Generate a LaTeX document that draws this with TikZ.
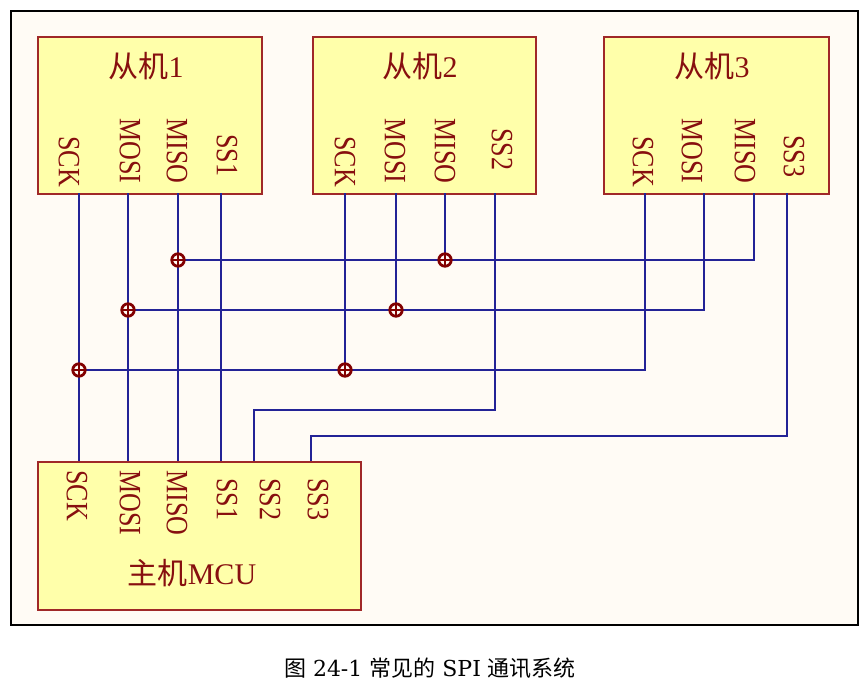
\documentclass[tikz,border=0pt]{standalone}
\usepackage{fontspec}
\setmainfont{Liberation Serif}
\newfontfamily\cjk{Noto Sans CJK SC}
\newfontfamily\capserif{DejaVu Serif}
\usepackage{graphicx}
\usetikzlibrary{calc}
\definecolor{paper}{RGB}{255,251,245}
\definecolor{chipfill}{RGB}{255,255,170}
\definecolor{chipline}{RGB}{160,40,40}
\definecolor{chiptext}{RGB}{135,15,15}
\definecolor{wireblue}{RGB}{35,35,150}
\definecolor{jred}{RGB}{130,0,0}
\tikzset{chip/.style = {draw = chipline, fill = chipfill, line width = 1.8, anchor = north west, inner sep = 0}}
\tikzset{title/.style = {text = chiptext, inner sep = 0, font = \fontsize{30}{30}\selectfont}}
\tikzset{pinlabel/.style = {rotate = -90, anchor = west, inner sep = 0, text = chiptext, font = \fontsize{31}{31}\selectfont}}
\tikzset{wire/.style = {draw = wireblue, line width = 1.9}}
\tikzset{junc/.style = {circle, draw = jred, line width = 2.8, minimum size = 12.5, inner sep = 0,
    path picture = {\draw [jred, line width = 2.6] (path picture bounding box.north) -- (path picture bounding box.south)
      (path picture bounding box.west) -- (path picture bounding box.east);}}}
\newcommand{\pinname}[1]{\scalebox{0.84}[1]{#1}}

\begin{document}
\begin{tikzpicture}[x = 1pt, y = -1pt]
    \fill [white] (0, 0) rectangle (868, 685);
    \useasboundingbox (0, 0) rectangle (868, 685);
    \draw [fill = paper, line width = 1.3] (11, 11) rectangle (858, 625);

    % slaves and master
    \node [chip, minimum width = 224, minimum height = 157] (slave1) at (37, 36) {};
    \node [chip, minimum width = 223, minimum height = 157] (slave2) at (312, 36) {};
    \node [chip, minimum width = 225, minimum height = 157] (slave3) at (603, 36) {};
    \node [chip, minimum width = 323, minimum height = 148] (master) at (37, 461) {};

    \node [title] (t1) at (146, 66) {{\cjk 从机}1};
    \node [title] (t2) at (420, 66) {{\cjk 从机}2};
    \node [title] (t3) at (712, 66) {{\cjk 从机}3};
    \node [title] (tm) at (192, 573) {{\cjk 主机}MCU};

    \node [pinlabel] (l1sck) at (69, 136) {\pinname{SCK}};
    \node [pinlabel] (l1mosi) at (130, 118) {\pinname{MOSI}};
    \node [pinlabel] (l1miso) at (177, 118) {\pinname{MISO}};
    \node [pinlabel] (l1ss) at (227, 134) {\pinname{SS1}};

    \node [pinlabel] (l2sck) at (345, 136) {\pinname{SCK}};
    \node [pinlabel] (l2mosi) at (395, 118) {\pinname{MOSI}};
    \node [pinlabel] (l2miso) at (445, 118) {\pinname{MISO}};
    \node [pinlabel] (l2ss) at (502, 128) {\pinname{SS2}};

    \node [pinlabel] (l3sck) at (643, 136) {\pinname{SCK}};
    \node [pinlabel] (l3mosi) at (692, 118) {\pinname{MOSI}};
    \node [pinlabel] (l3miso) at (745, 118) {\pinname{MISO}};
    \node [pinlabel] (l3ss) at (794, 135) {\pinname{SS3}};

    \node [pinlabel] (lmsck) at (77, 470) {\pinname{SCK}};
    \node [pinlabel] (lmmosi) at (130, 470) {\pinname{MOSI}};
    \node [pinlabel] (lmmiso) at (177, 470) {\pinname{MISO}};
    \node [pinlabel] (lmss1) at (227, 478) {\pinname{SS1}};
    \node [pinlabel] (lmss2) at (270, 478) {\pinname{SS2}};
    \node [pinlabel] (lmss3) at (318, 478) {\pinname{SS3}};

    % pin ends
    \coordinate (s1sck) at (79, 193);
    \coordinate (s1mosi) at (128, 193);
    \coordinate (s1miso) at (178, 193);
    \coordinate (s1ss) at (221, 193);
    \coordinate (s2sck) at (345, 193);
    \coordinate (s2mosi) at (396, 193);
    \coordinate (s2miso) at (445, 193);
    \coordinate (s2ss) at (495, 193);
    \coordinate (s3sck) at (645, 193);
    \coordinate (s3mosi) at (704, 193);
    \coordinate (s3miso) at (754, 193);
    \coordinate (s3ss) at (787, 193);
    \coordinate (msck) at (79, 461);
    \coordinate (mmosi) at (128, 461);
    \coordinate (mmiso) at (178, 461);
    \coordinate (mss1) at (221, 461);
    \coordinate (mss2) at (254, 461);
    \coordinate (mss3) at (311, 461);

    % bus corners
    \coordinate (bmiso) at (754, 260);
    \coordinate (bmosi) at (704, 310);
    \coordinate (bsck) at (645, 370);
    \coordinate (ss2turn) at (495, 410);
    \coordinate (ss3turn) at (787, 436);

    \draw [wire] (s1sck) -- (msck);
    \draw [wire] (s1mosi) -- (mmosi);
    \draw [wire] (s1miso) -- (mmiso);
    \draw [wire] (s1ss) -- (mss1);

    \draw [wire] (s3miso) -- (bmiso) -- (s1miso |- bmiso);
    \draw [wire] (s3mosi) -- (bmosi) -- (s1mosi |- bmosi);
    \draw [wire] (s3sck) -- (bsck) -- (s1sck |- bsck);
    \draw [wire] (s2miso) -- (s2miso |- bmiso);
    \draw [wire] (s2mosi) -- (s2mosi |- bmosi);
    \draw [wire] (s2sck) -- (s2sck |- bsck);

    \draw [wire] (s2ss) -- (ss2turn) -| (mss2);
    \draw [wire] (s3ss) -- (ss3turn) -| (mss3);

    % junctions
    \node [junc] (j1miso) at (s1miso |- bmiso) {};
    \node [junc] (j2miso) at (s2miso |- bmiso) {};
    \node [junc] (j1mosi) at (s1mosi |- bmosi) {};
    \node [junc] (j2mosi) at (s2mosi |- bmosi) {};
    \node [junc] (j1sck) at (s1sck |- bsck) {};
    \node [junc] (j2sck) at (s2sck |- bsck) {};

    \node [font = \fontsize{22}{22}\selectfont\capserif, inner sep = 0] (caption) at (430, 668) {{\cjk 图} 24-1 {\cjk 常见的} SPI {\cjk 通讯系统}};
\end{tikzpicture}
\end{document}
